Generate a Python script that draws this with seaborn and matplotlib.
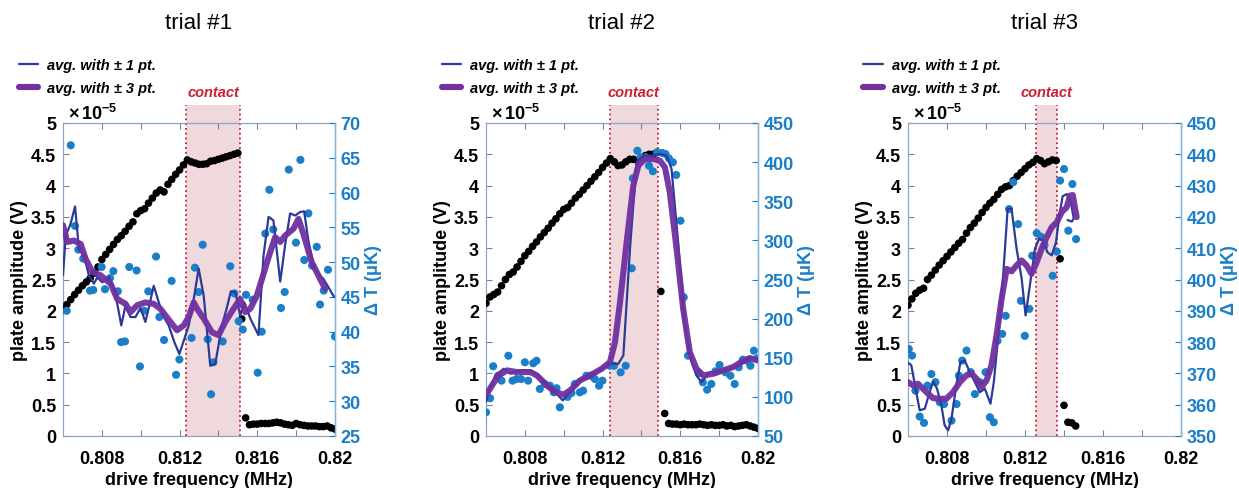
import numpy as np
import pandas as pd
import seaborn as sns
import matplotlib.pyplot as plt
from matplotlib.lines import Line2D

# ---- data ----
# plate amplitude is sampled on the drive sweep grid (MHz), values in 1e-5 V
f_start = 0.806
f_step = 0.0002

amp1 = [2.02, 2.10, 2.18, 2.26, 2.33, 2.40, 2.46, 2.52, 2.60, 2.70,
        2.82, 2.90, 2.98, 3.06, 3.14, 3.20, 3.27, 3.35, 3.42, 3.55,
        3.60, 3.63, 3.72, 3.80, 3.88, 3.93, 3.90, 4.02, 4.10, 4.18,
        4.25, 4.33, 4.41, 4.38, 4.36, 4.34, 4.34, 4.35, 4.39, 4.40,
        4.42, 4.44, 4.46, 4.48, 4.50, 4.52, 1.87, 0.29, 0.18, 0.19,
        0.19, 0.20, 0.20, 0.20, 0.21, 0.22, 0.21, 0.19, 0.18, 0.17,
        0.20, 0.18, 0.17, 0.16, 0.16, 0.16, 0.15, 0.15, 0.16, 0.13, 0.11]
amp2 = [2.12, 2.22, 2.26, 2.30, 2.40, 2.50, 2.58, 2.62, 2.70, 2.79,
        2.88, 2.95, 3.03, 3.10, 3.18, 3.25, 3.32, 3.40, 3.47, 3.55,
        3.62, 3.65, 3.72, 3.80, 3.86, 3.93, 4.00, 4.07, 4.14, 4.21,
        4.29, 4.36, 4.43, 4.38, 4.32, 4.33, 4.38, 4.42, 4.42, 4.40,
        4.44, 4.48, 4.50, 4.50, 4.53, 2.31, 0.36, 0.20, 0.19, 0.19,
        0.18, 0.19, 0.18, 0.18, 0.18, 0.19, 0.18, 0.17, 0.18, 0.17,
        0.17, 0.18, 0.16, 0.17, 0.15, 0.16, 0.17, 0.18, 0.16, 0.14, 0.12]
amp3 = [2.09, 2.19, 2.28, 2.33, 2.36, 2.50, 2.57, 2.65, 2.73, 2.80,
        2.87, 2.94, 3.01, 3.08, 3.14, 3.24, 3.33, 3.40, 3.48, 3.57,
        3.65, 3.72, 3.78, 3.86, 3.94, 3.98, 4.00, 4.08, 4.15, 4.21,
        4.27, 4.33, 4.37, 4.43, 4.40, 4.35, 4.38, 4.41, 4.40, 2.83,
        0.49, 0.22, 0.21, 0.16]

# delta T points (MHz, uK)
dt1_f = [0.80619, 0.80640, 0.80662, 0.80679, 0.80704, 0.80739, 0.80756, 0.80799,
         0.80816, 0.80842, 0.80859, 0.80882, 0.80899, 0.80919, 0.80941, 0.80979,
         0.80996, 0.81018, 0.81039, 0.81079, 0.81096, 0.81120, 0.81159, 0.81182,
         0.81199, 0.81262, 0.81279, 0.81298, 0.81319, 0.81345, 0.81362, 0.81374,
         0.81422, 0.81461, 0.81482, 0.81504, 0.81525, 0.81542, 0.81576, 0.81602,
         0.81623, 0.81641, 0.81662, 0.81682, 0.81722, 0.81741, 0.81762, 0.81799,
         0.81822, 0.81842, 0.81863, 0.81882, 0.81906, 0.81923, 0.81942, 0.81964, 0.82000]
dt1_t = [43.0, 66.8, 55.2, 51.8, 50.5, 45.9, 46.0, 49.3,
         46.1, 47.7, 48.7, 45.8, 38.5, 38.6, 49.3, 48.8,
         35.0, 43.0, 45.8, 50.8, 42.1, 38.8, 47.3, 33.8,
         36.0, 39.1, 49.2, 45.7, 52.5, 38.9, 31.0, 35.6,
         38.6, 49.4, 45.5, 41.5, 40.3, 45.3, 44.6, 34.1,
         40.0, 54.1, 60.4, 54.7, 43.4, 45.7, 63.3, 52.8,
         64.7, 50.3, 57.0, 49.5, 52.2, 43.9, 45.9, 48.9, 39.3]

dt2_f = [0.80600, 0.80621, 0.80637, 0.80663, 0.80680, 0.80715, 0.80737, 0.80757,
         0.80780, 0.80800, 0.80817, 0.80843, 0.80860, 0.80877, 0.80903, 0.80929,
         0.80949, 0.80963, 0.80980, 0.81020, 0.81040, 0.81057, 0.81083, 0.81100,
         0.81117, 0.81137, 0.81160, 0.81182, 0.81199, 0.81237, 0.81259, 0.81293,
         0.81319, 0.81350, 0.81356, 0.81379, 0.81396, 0.81422, 0.81439, 0.81459,
         0.81481, 0.81507, 0.81524, 0.81541, 0.81562, 0.81579, 0.81601, 0.81618,
         0.81640, 0.81695, 0.81716, 0.81738, 0.81760, 0.81781, 0.81802, 0.81833,
         0.81858, 0.81880, 0.81901, 0.81922, 0.81944, 0.81961, 0.81979, 0.81996]
dt2_t = [80.3, 98.2, 139.1, 127.1, 120.7, 152.6, 120.7, 122.8,
         122.8, 144.2, 120.7, 142.9, 146.2, 110.1, 116.5, 114.3,
         105.8, 111.0, 86.7, 100.0, 105.0, 116.5, 105.8, 107.9,
         127.1, 127.1, 122.8, 114.3, 120.7, 139.8, 139.8, 131.4,
         139.8, 264.3, 379.3, 414.6, 406.2, 406.2, 395.4, 388.3,
         412.6, 411.7, 410.4, 404.9, 399.8, 383.6, 325.1, 227.3,
         152.6, 130.5, 118.6, 109.2, 116.5, 132.7, 140.8, 131.4,
         127.1, 116.5, 137.8, 147.5, 146.2, 139.8, 159.0, 149.3]

dt3_f = [0.80604, 0.80621, 0.80638, 0.80660, 0.80682, 0.80700, 0.80720, 0.80741,
         0.80763, 0.80785, 0.80823, 0.80849, 0.80861, 0.80878, 0.80900, 0.80922,
         0.80943, 0.80969, 0.80998, 0.81020, 0.81040, 0.81059, 0.81083, 0.81101,
         0.81118, 0.81140, 0.81165, 0.81179, 0.81199, 0.81222, 0.81237, 0.81260,
         0.81282, 0.81300, 0.81342, 0.81363, 0.81380, 0.81400, 0.81422, 0.81443, 0.81462]
dt3_t = [377.8, 375.7, 364.5, 356.2, 354.2, 366.1, 369.8, 367.2,
         360.8, 360.2, 354.9, 360.2, 369.3, 374.1, 377.3, 370.4,
         363.4, 367.2, 370.4, 356.0, 354.4, 380.4, 382.6, 388.4,
         422.5, 431.1, 417.7, 393.2, 382.0, 390.6, 407.6, 414.8,
         413.7, 411.0, 401.2, 408.9, 431.6, 435.3, 415.6, 430.5, 412.9]

# averaged traces (avg. with +-1 pt and +-3 pt)
avg1_1f = [0.80600, 0.80614, 0.80639, 0.80662, 0.80682, 0.80708, 0.80733, 0.80759,
           0.80776, 0.80802, 0.80836, 0.80870, 0.80900, 0.80922, 0.80947, 0.80973,
           0.80999, 0.81024, 0.81042, 0.81067, 0.81093, 0.81119, 0.81144, 0.81173,
           0.81199, 0.81225, 0.81247, 0.81276, 0.81298, 0.81324, 0.81358, 0.81384,
           0.81418, 0.81444, 0.81464, 0.81487, 0.81512, 0.81534, 0.81564, 0.81606,
           0.81632, 0.81658, 0.81683, 0.81718, 0.81743, 0.81769, 0.81795, 0.81820,
           0.81841, 0.81863, 0.81889, 0.81914, 0.81940, 0.81966, 0.81995]
avg1_1t = [48.1, 53.8, 55.5, 58.0, 51.9, 50.9, 48.1, 46.9,
           47.8, 47.1, 47.8, 45.4, 40.9, 43.8, 42.1, 42.1,
           43.4, 41.4, 43.5, 46.6, 44.2, 42.1, 40.9, 38.5,
           36.8, 39.0, 40.9, 45.2, 49.1, 45.2, 35.1, 35.4,
           40.9, 43.5, 45.8, 45.7, 42.3, 44.2, 41.9, 39.5,
           50.9, 56.5, 56.0, 47.2, 52.4, 57.0, 56.7, 57.2,
           57.3, 53.1, 49.5, 48.3, 47.6, 46.4, 45.0]
avg1_3f = [0.80600, 0.80622, 0.80656, 0.80691, 0.80716, 0.80751, 0.80793, 0.80845,
           0.80879, 0.80922, 0.80947, 0.80982, 0.81024, 0.81067, 0.81101, 0.81153,
           0.81187, 0.81221, 0.81247, 0.81273, 0.81290, 0.81324, 0.81367, 0.81401,
           0.81435, 0.81478, 0.81512, 0.81538, 0.81564, 0.81598, 0.81632, 0.81658,
           0.81692, 0.81718, 0.81743, 0.81786, 0.81812, 0.81837, 0.81880, 0.81923, 0.81949]
avg1_3t = [55.3, 52.9, 53.1, 52.6, 50.5, 48.6, 48.1, 46.9,
           44.7, 44.0, 42.8, 43.8, 44.2, 44.0, 43.3, 41.4,
           40.2, 40.9, 42.1, 44.2, 43.3, 41.9, 39.9, 39.5,
           41.4, 43.3, 44.7, 42.8, 43.3, 45.2, 48.3, 50.7,
           53.6, 52.9, 53.8, 54.8, 56.2, 54.1, 50.0, 47.6, 46.2]

avg2_1f = [0.80600, 0.80619, 0.80648, 0.80691, 0.80725, 0.80751, 0.80785, 0.80828,
           0.80870, 0.80913, 0.80956, 0.80995, 0.81033, 0.81084, 0.81136, 0.81196,
           0.81238, 0.81281, 0.81307, 0.81341, 0.81375, 0.81410, 0.81452, 0.81495,
           0.81529, 0.81555, 0.81589, 0.81623, 0.81658, 0.81683, 0.81709, 0.81752,
           0.81803, 0.81855, 0.81906, 0.81957, 0.82000]
avg2_1t = [93.4, 110.4, 127.4, 135.9, 129.6, 131.7, 133.8, 133.8,
           127.4, 114.7, 106.2, 95.5, 106.2, 121.1, 127.4, 136.0,
           142.3, 142.3, 153.0, 289.2, 399.8, 408.3, 408.3, 410.4,
           408.3, 391.3, 297.7, 191.3, 144.5, 127.4, 118.9, 131.7,
           131.7, 136.0, 140.2, 150.9, 148.7]
avg2_3f = [0.80600, 0.80631, 0.80665, 0.80708, 0.80759, 0.80828, 0.80862, 0.80913,
           0.80956, 0.80999, 0.81033, 0.81084, 0.81136, 0.81196, 0.81238, 0.81264,
           0.81290, 0.81324, 0.81358, 0.81384, 0.81418, 0.81461, 0.81495, 0.81521,
           0.81546, 0.81581, 0.81615, 0.81649, 0.81683, 0.81718, 0.81769, 0.81820,
           0.81872, 0.81914, 0.81957, 0.82000]
avg2_3t = [101.9, 114.7, 127.4, 133.8, 131.7, 131.7, 127.4, 114.7,
           106.2, 102.8, 108.3, 121.1, 127.4, 136.0, 144.5, 170.0,
           221.1, 297.7, 370.0, 395.5, 404.0, 404.0, 401.9, 393.4,
           361.5, 289.2, 212.5, 157.2, 136.0, 127.4, 129.6, 133.8,
           138.1, 144.5, 149.6, 146.6]

avg3_1f = [0.80600, 0.80617, 0.80639, 0.80660, 0.80686, 0.80711, 0.80729, 0.80749,
           0.80771, 0.80788, 0.80806, 0.80823, 0.80849, 0.80869, 0.80891, 0.80917,
           0.80943, 0.80968, 0.80994, 0.81023, 0.81040, 0.81063, 0.81088, 0.81111,
           0.81131, 0.81157, 0.81183, 0.81203, 0.81225, 0.81251, 0.81272, 0.81294,
           0.81315, 0.81337, 0.81359, 0.81376, 0.81393, 0.81414, 0.81435, 0.81450,
           0.81440, 0.81418]
avg3_1t = [373.4, 372.6, 365.1, 358.2, 358.7, 364.0, 367.4, 365.1,
           359.8, 353.4, 351.8, 355.5, 366.7, 373.6, 374.1, 370.4,
           367.2, 364.0, 365.1, 360.3, 367.2, 382.1, 401.3, 422.6,
           422.6, 409.8, 400.2, 388.5, 398.1, 409.8, 413.0, 412.4,
           408.7, 407.7, 411.9, 420.4, 426.6, 427.3, 424.7, 419.5,
           418.5, 419.0]
avg3_3f = [0.80600, 0.80626, 0.80651, 0.80677, 0.80703, 0.80729, 0.80763, 0.80797,
           0.80831, 0.80866, 0.80900, 0.80926, 0.80951, 0.80977, 0.81003, 0.81028,
           0.81054, 0.81080, 0.81106, 0.81131, 0.81157, 0.81183, 0.81208, 0.81234,
           0.81260, 0.81285, 0.81311, 0.81337, 0.81363, 0.81388, 0.81414, 0.81431,
           0.81445, 0.81457, 0.81465]
avg3_3t = [367.2, 366.2, 366.7, 365.1, 363.5, 362.1, 361.9, 361.9,
           364.0, 367.2, 369.4, 369.9, 368.3, 365.6, 367.8, 372.6,
           382.1, 393.8, 403.4, 402.6, 404.5, 406.1, 404.5, 401.8,
           405.5, 409.8, 413.5, 416.7, 418.3, 421.5, 423.1, 426.8,
           427.0, 422.6, 419.9]

contacts = [(0.81233, 0.81512), (0.81238, 0.81483), (0.81256, 0.81366)]
dt_limits = [(25, 70, 5), (50, 450, 50), (350, 450, 10)]
titles = ["trial #1", "trial #2", "trial #3"]

# ---- style ----
sns.set_style("ticks")
plt.rcParams['font.family'] = ['Liberation Sans', 'DejaVu Sans']
plt.rcParams['text.color'] = 'black'
plt.rcParams['axes.labelcolor'] = 'black'
plt.rcParams['mathtext.fontset'] = 'custom'
plt.rcParams['mathtext.rm'] = 'Liberation Sans'
plt.rcParams['mathtext.bf'] = 'Liberation Sans:bold'

c_amp = 'black'
c_dt = '#1a7fc8'
c_thin = '#2b3a9a'
c_thick = '#7030a0'
c_band = '#efd9dc'
c_red = '#cc1f36'

fig = plt.figure(figsize=(12.39, 4.89), dpi=100)
lefts = [63, 486, 908]
widths = [272, 272, 273]

amps = [amp1, amp2, amp3]
dts = [(dt1_f, dt1_t), (dt2_f, dt2_t), (dt3_f, dt3_t)]
thins = [(avg1_1f, avg1_1t), (avg2_1f, avg2_1t), (avg3_1f, avg3_1t)]
thicks = [(avg1_3f, avg1_3t), (avg2_3f, avg2_3t), (avg3_3f, avg3_3t)]

for k in range(3):
    ax = fig.add_axes([lefts[k] / 1239, 52 / 489, widths[k] / 1239, 313 / 489])
    c0, c1 = contacts[k]

    # contact band (runs a bit above the axes)
    ax.axvspan(c0, c1, ymin=0, ymax=1.058, color=c_band, lw=0, clip_on=False, zorder=0)
    for xc in (c0, c1):
        ax.plot([xc, xc], [0, 1.058], transform=ax.get_xaxis_transform(),
                color=c_red, ls=':', lw=1.3, clip_on=False, zorder=1)
    ax.text((c0 + c1) / 2, 1.099, "contact", transform=ax.get_xaxis_transform(),
            ha='center', va='center', color=c_red, fontsize=10.5,
            fontweight='bold', fontstyle='italic')

    df_amp = pd.DataFrame({'f': f_start + f_step * np.arange(len(amps[k])), 'amp': amps[k]})
    sns.scatterplot(data=df_amp, x='f', y='amp', color=c_amp, s=30, edgecolor='none',
                    ax=ax, zorder=3, legend=False)

    ax.set_xlim(0.806, 0.820)
    ax.set_ylim(0, 5)
    ax.set_yticks(np.arange(0, 5.01, 0.5))
    ax.set_yticklabels(['0', '0.5', '1', '1.5', '2', '2.5', '3', '3.5', '4', '4.5', '5'])
    ax.set_xticks([0.808, 0.810, 0.812, 0.814, 0.816, 0.818, 0.820])
    ax.set_xticklabels(['0.808', '', '0.812', '', '0.816', '', '0.82'])
    ax.tick_params(axis='both', direction='in', labelsize=13, length=4, width=0.8,
                   colors='#808080', labelcolor='black', top=True)
    ax.tick_params(axis='x', pad=10)
    ax.tick_params(axis='y', pad=5)
    for lab in ax.get_xticklabels() + ax.get_yticklabels():
        lab.set_fontweight('bold')
    ax.set_xlabel("drive frequency (MHz)", fontsize=13, fontweight='bold', labelpad=3)
    ax.set_ylabel("plate amplitude (V)", fontsize=13, fontweight='bold', labelpad=2)
    for sp in ['left', 'top', 'bottom']:
        ax.spines[sp].set_color('#8aa6c4')
        ax.spines[sp].set_linewidth(0.9)
    ax.text(0.02, 1.0, r'$\mathbf{\times\,10^{-5}}$', transform=ax.transAxes,
            ha='left', va='bottom', fontsize=13)
    ax.text(0.5, 1.32, titles[k], transform=ax.transAxes, ha='center', va='center',
            fontsize=16)

    ax2 = ax.twinx()
    df_dt = pd.DataFrame({'f': dts[k][0], 't': dts[k][1]})
    sns.scatterplot(data=df_dt, x='f', y='t', color=c_dt, s=34, edgecolor='none',
                    ax=ax2, zorder=2, legend=False)
    df_thin = pd.DataFrame({'f': thins[k][0], 't': thins[k][1]})
    df_thick = pd.DataFrame({'f': thicks[k][0], 't': thicks[k][1]})
    sns.lineplot(data=df_thin, x='f', y='t', color=c_thin, lw=1.6, sort=False,
                 estimator=None, ax=ax2, zorder=3)
    sns.lineplot(data=df_thick, x='f', y='t', color=c_thick, lw=4.4, sort=False,
                 estimator=None, ax=ax2, zorder=4, alpha=0.95)

    lo, hi, st = dt_limits[k]
    ax2.set_ylim(lo, hi)
    ax2.set_yticks(np.arange(lo, hi + st / 2, st))
    ax2.set_xlim(0.806, 0.820)
    ax2.tick_params(axis='y', direction='in', labelsize=13, length=4, width=0.8,
                    colors=c_dt, labelcolor=c_dt, pad=4)
    for lab in ax2.get_yticklabels():
        lab.set_fontweight('bold')
    ax2.set_ylabel("Δ T (μK)", fontsize=13, fontweight='bold', color=c_dt, labelpad=3)
    ax2.spines['right'].set_color('#7fb6e2')
    ax2.spines['right'].set_linewidth(1.0)
    for sp in ['left', 'top', 'bottom']:
        ax2.spines[sp].set_visible(False)

    handles = [Line2D([], [], color=c_thin, lw=1.6), Line2D([], [], color=c_thick, lw=4.4)]
    ax2.legend(handles, ["avg. with ± 1 pt.", "avg. with ± 3 pt."], loc='upper left',
               bbox_to_anchor=(-0.185, 1.225), frameon=False, borderaxespad=0,
               prop=dict(weight='bold', style='italic', size=10.5),
               handlelength=1.35, handletextpad=0.6, labelspacing=0.6)

fig.savefig("out.png", dpi=100)
